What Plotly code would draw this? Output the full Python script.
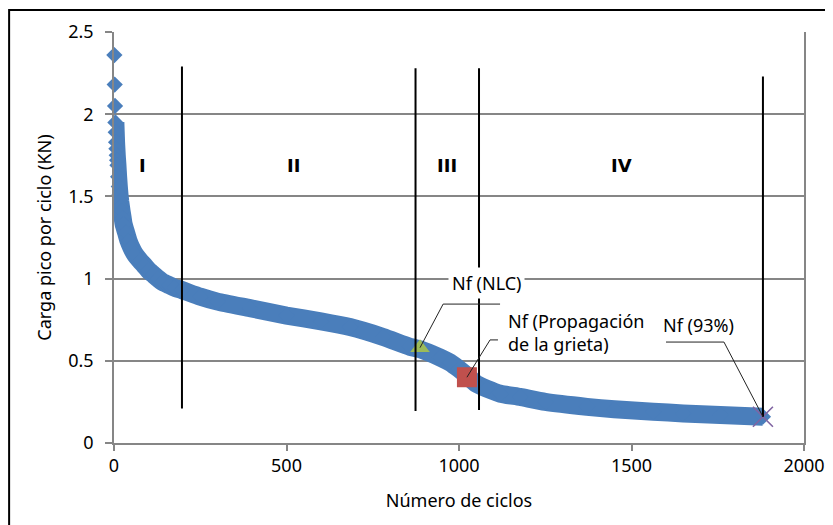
import plotly.graph_objects as go

# ---- data ----
cycles = [1, 2, 3, 4, 5, 6, 7, 8, 9, 10, 12, 14, 16, 18, 20, 22, 25, 28, 35, 42, 50,
          60, 75, 88, 100, 114, 128, 140, 160, 175, 197, 250, 300, 394, 500, 600, 684,
          780, 858, 887, 945, 974, 1000, 1023, 1050, 1081, 1120, 1177, 1250, 1371,
          1450, 1563, 1650, 1757, 1881]
load = [2.36, 2.18, 2.05, 1.95, 1.89, 1.83, 1.79, 1.75, 1.72, 1.69, 1.62, 1.56, 1.51,
        1.47, 1.44, 1.41, 1.37, 1.33, 1.28, 1.23, 1.19, 1.15, 1.11, 1.08, 1.05, 1.025,
        1.00, 0.98, 0.96, 0.945, 0.93, 0.89, 0.86, 0.82, 0.775, 0.74, 0.705, 0.645, 0.585,
        0.57, 0.52, 0.49, 0.45, 0.41, 0.36, 0.33, 0.30, 0.28, 0.25, 0.22, 0.205, 0.19,
        0.18, 0.17, 0.16]

nf_nlc = (887, 0.58)
nf_prop = (1023, 0.40)
nf_93 = (1881, 0.16)

stage_bounds_x = [197, 874, 1058, 1881]
stage_bounds_top = [2.29, 2.28, 2.28, 2.23]
stage_bounds_bottom = [0.21, 0.195, 0.20, 0.16]

stage_labels = ["I", "II", "III", "IV"]
stage_label_x = [84, 519, 965, 1470]
stage_label_y = 1.69

x_ticks = [0, 500, 1000, 1500, 2000]
y_ticks = [0, 0.5, 1, 1.5, 2, 2.5]
y_tick_text = ["0", "0.5", "1", "1.5", "2", "2.5"]

# callouts: text, text position, leader path (elbow, then point)
callout_nlc_text = "Nf (NLC)"
callout_nlc_pos = (1081, 0.973)
callout_nlc_path = [(1119, 0.845), (954, 0.845), nf_nlc]

callout_prop_text = "Nf (Propagación<br>de la grieta)"
callout_prop_pos = (1136, 0.675)
callout_prop_path = [(1113, 0.627), (1090, 0.627), nf_prop]

callout_93_text = "Nf (93%)"
callout_93_pos = (1693, 0.718)
callout_93_path = [(1600, 0.614), (1768, 0.614), nf_93]

FONT = "Noto Sans"
BOLD_FONT = "DejaVu Sans"
BLUE = "#4A7EBB"

fig = go.Figure()

# thick band (line) from 4th point onward
fig.add_trace(go.Scatter(x=cycles[3:], y=load[3:], mode="lines",
                         line=dict(color=BLUE, width=18, shape="spline", smoothing=0.5),
                         hoverinfo="skip"))
# diamonds
fig.add_trace(go.Scatter(x=cycles, y=load, mode="markers",
                         marker=dict(symbol="diamond", size=12.5, color=BLUE),
                         cliponaxis=False))
# special points
fig.add_trace(go.Scatter(x=[nf_nlc[0]], y=[nf_nlc[1]], mode="markers",
                         marker=dict(symbol="triangle-up", size=17, color="#9BBB59")))
fig.add_trace(go.Scatter(x=[nf_prop[0]], y=[nf_prop[1]], mode="markers",
                         marker=dict(symbol="square", size=20, color="#C0504D")))
fig.add_trace(go.Scatter(x=[nf_93[0]], y=[nf_93[1]], mode="markers",
                         marker=dict(symbol="x-thin", size=20,
                                     line=dict(color="#8064A2", width=1.6))))

shapes = []
for xb, yt, yb in zip(stage_bounds_x, stage_bounds_top, stage_bounds_bottom):
    shapes.append(dict(type="line", xref="x", yref="y", x0=xb, x1=xb, y0=yb, y1=yt,
                       line=dict(color="black", width=2)))


def path_of(pts):
    return "M " + " L ".join(f"{px},{py}" for px, py in pts)


for p in (callout_nlc_path, callout_prop_path, callout_93_path):
    shapes.append(dict(type="path", xref="x", yref="y", path=path_of(p),
                       line=dict(color="#222222", width=1)))

# outer frame (left and top edges visible)
shapes.append(dict(type="rect", xref="paper", yref="paper", x0=-0.152, x1=1.08,
                   y0=-0.25, y1=1.0535, line=dict(color="black", width=2), layer="above"))

annotations = []
for t, xx in zip(stage_labels, stage_label_x):
    annotations.append(dict(x=xx, y=stage_label_y, xref="x", yref="y", text=f"<b>{t}</b>",
                            showarrow=False, font=dict(family=BOLD_FONT, size=18, color="black")))

annotations.append(dict(x=callout_nlc_pos[0], y=callout_nlc_pos[1], xref="x", yref="y",
                        text=callout_nlc_text, showarrow=False, bgcolor="white",
                        borderpad=3, font=dict(family=FONT, size=18, color="black")))
annotations.append(dict(x=callout_prop_pos[0], y=callout_prop_pos[1], xref="x", yref="y",
                        text=callout_prop_text, showarrow=False, xanchor="left",
                        align="left", font=dict(family=FONT, size=18, color="black")))
annotations.append(dict(x=callout_93_pos[0], y=callout_93_pos[1], xref="x", yref="y",
                        text=callout_93_text, showarrow=False,
                        font=dict(family=FONT, size=18, color="black")))

fig.update_layout(
    width=825, height=517,
    margin=dict(l=106, r=29, t=24, b=82, autoexpand=False),
    paper_bgcolor="white", plot_bgcolor="white",
    showlegend=False,
    font=dict(family=FONT, size=18, color="black"),
    shapes=shapes, annotations=annotations,
    xaxis=dict(range=[0, 2000], tickvals=x_ticks, showgrid=False, zeroline=False,
               showline=True, linecolor="#868686", linewidth=1.5, automargin=False,
               ticks="outside", ticklen=6, tickcolor="#868686", tickwidth=1.5,
               title=dict(text="Número de ciclos", standoff=18,
                          font=dict(family=FONT, size=18)),
               tickfont=dict(family=FONT, size=18)),
    yaxis=dict(range=[0, 2.5], tickvals=y_ticks, ticktext=y_tick_text,
               showgrid=True, gridcolor="#868686", gridwidth=1.5, zeroline=False,
               showline=True, linecolor="#868686", linewidth=1.5, mirror=True,
               automargin=False,
               ticks="outside", ticklen=7, tickcolor="#868686", tickwidth=1.5,
               ticklabelstandoff=8,
               title=dict(text="Carga pico por ciclo (KN)", standoff=12,
                          font=dict(family=FONT, size=18)),
               tickfont=dict(family=FONT, size=18)),
)

fig.write_html("out.html")
